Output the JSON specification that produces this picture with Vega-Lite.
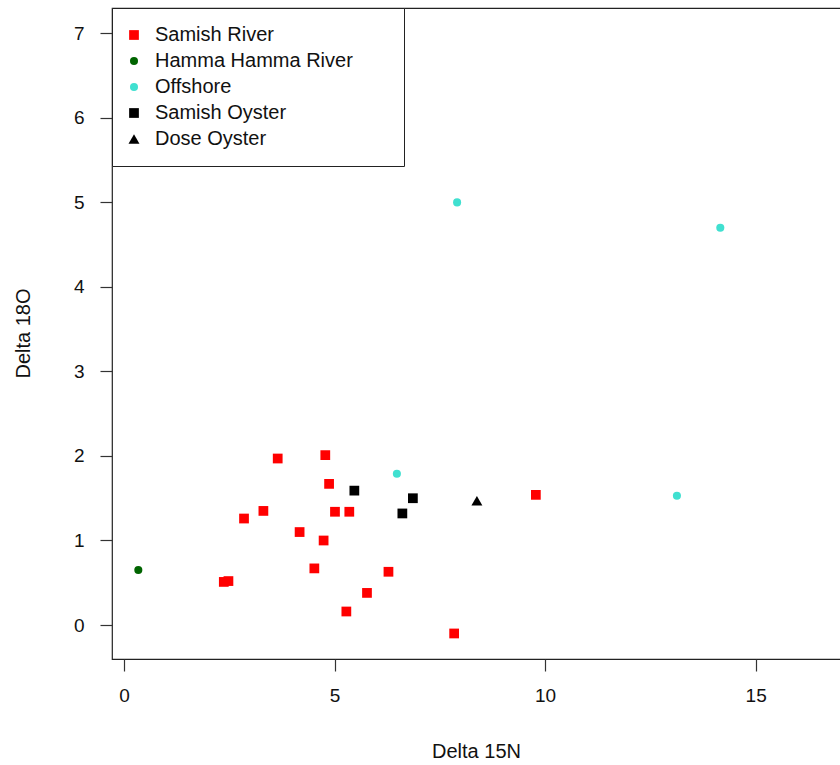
{
  "$schema": "https://vega.github.io/schema/vega-lite/v6.json",
  "autosize": {"type": "none"},
  "padding": {"left": 112, "top": 8, "right": 0, "bottom": 106},
  "width": 730,
  "height": 651,
  "background": "white",
  "config": {
    "view": {"stroke": "#222222", "strokeWidth": 1.2},
    "font": "Liberation Sans",
    "axis": {
      "grid": false,
      "domain": false,
      "tickColor": "#333333",
      "tickSize": 12,
      "tickWidth": 1.2,
      "labelFont": "Liberation Sans",
      "labelFontSize": 19,
      "labelColor": "#111111",
      "titleFont": "Liberation Sans",
      "titleFontSize": 20,
      "titleFontWeight": "normal",
      "titleColor": "#111111"
    }
  },
  "data": {
    "values": [
      {"d15N": 3.65, "d18O": 1.97, "group": "Samish River"},
      {"d15N": 4.78, "d18O": 2.01, "group": "Samish River"},
      {"d15N": 4.87, "d18O": 1.67, "group": "Samish River"},
      {"d15N": 3.31, "d18O": 1.35, "group": "Samish River"},
      {"d15N": 2.85, "d18O": 1.26, "group": "Samish River"},
      {"d15N": 5.01, "d18O": 1.34, "group": "Samish River"},
      {"d15N": 5.35, "d18O": 1.34, "group": "Samish River"},
      {"d15N": 4.17, "d18O": 1.10, "group": "Samish River"},
      {"d15N": 4.74, "d18O": 1.00, "group": "Samish River"},
      {"d15N": 4.52, "d18O": 0.67, "group": "Samish River"},
      {"d15N": 2.37, "d18O": 0.51, "group": "Samish River"},
      {"d15N": 2.48, "d18O": 0.52, "group": "Samish River"},
      {"d15N": 6.28, "d18O": 0.63, "group": "Samish River"},
      {"d15N": 5.77, "d18O": 0.38, "group": "Samish River"},
      {"d15N": 5.28, "d18O": 0.16, "group": "Samish River"},
      {"d15N": 7.84, "d18O": -0.10, "group": "Samish River"},
      {"d15N": 9.78, "d18O": 1.54, "group": "Samish River"},
      {"d15N": 0.34, "d18O": 0.65, "group": "Hamma Hamma River"},
      {"d15N": 6.48, "d18O": 1.79, "group": "Offshore"},
      {"d15N": 7.91, "d18O": 5.00, "group": "Offshore"},
      {"d15N": 14.16, "d18O": 4.70, "group": "Offshore"},
      {"d15N": 13.13, "d18O": 1.53, "group": "Offshore"},
      {"d15N": 5.47, "d18O": 1.59, "group": "Samish Oyster"},
      {"d15N": 6.86, "d18O": 1.50, "group": "Samish Oyster"},
      {"d15N": 6.61, "d18O": 1.32, "group": "Samish Oyster"},
      {"d15N": 8.38, "d18O": 1.47, "group": "Dose Oyster"}
    ]
  },
  "mark": {"type": "point", "filled": true, "opacity": 1, "strokeWidth": 0},
  "encoding": {
    "x": {
      "field": "d15N",
      "type": "quantitative",
      "title": "Delta 15N",
      "scale": {"domain": [-0.285, 17.05], "nice": false, "zero": false},
      "axis": {
        "values": [0, 5, 10, 15],
        "labelPadding": 15,
        "titleX": 364,
        "titleY": 98,
        "titleBaseline": "alphabetic",
        "titleAnchor": "middle",
        "titleAlign": "center"
      }
    },
    "y": {
      "field": "d18O",
      "type": "quantitative",
      "title": "Delta 18O",
      "scale": {"domain": [-0.402, 7.30], "nice": false, "zero": false},
      "axis": {
        "values": [0, 1, 2, 3, 4, 5, 6, 7],
        "labelAngle": 0,
        "labelPadding": 16,
        "titleX": -83,
        "titleY": 325,
        "titleAngle": -90,
        "titleBaseline": "alphabetic",
        "titleAlign": "center"
      }
    },
    "color": {
      "field": "group",
      "type": "nominal",
      "title": null,
      "scale": {
        "domain": ["Samish River", "Hamma Hamma River", "Offshore", "Samish Oyster", "Dose Oyster"],
        "range": ["#ff0000", "#006400", "#40e0d0", "#000000", "#000000"]
      },
      "legend": {
        "orient": "top-left",
        "offset": 0,
        "padding": 17,
        "strokeColor": "#222222",
        "fillColor": "white",
        "cornerRadius": 0,
        "rowPadding": 6,
        "labelFont": "Liberation Sans",
        "labelFontSize": 20,
        "labelColor": "#111111",
        "labelOffset": 11,
        "symbolOffset": -5,
        "labelLimit": 0,
        "labelExpr": "datum.label + '\u00a0\u00a0\u00a0\u00a0\u00a0\u00a0\u200b'",
        "symbolStrokeWidth": 0
      }
    },
    "shape": {
      "field": "group",
      "type": "nominal",
      "title": null,
      "scale": {
        "domain": ["Samish River", "Hamma Hamma River", "Offshore", "Samish Oyster", "Dose Oyster"],
        "range": ["square", "circle", "circle", "square", "triangle-up"]
      }
    },
    "size": {
      "field": "group",
      "type": "nominal",
      "title": null,
      "scale": {
        "type": "ordinal",
        "domain": ["Samish River", "Hamma Hamma River", "Offshore", "Samish Oyster", "Dose Oyster"],
        "range": [95, 65, 65, 95, 120]
      }
    }
  }
}
